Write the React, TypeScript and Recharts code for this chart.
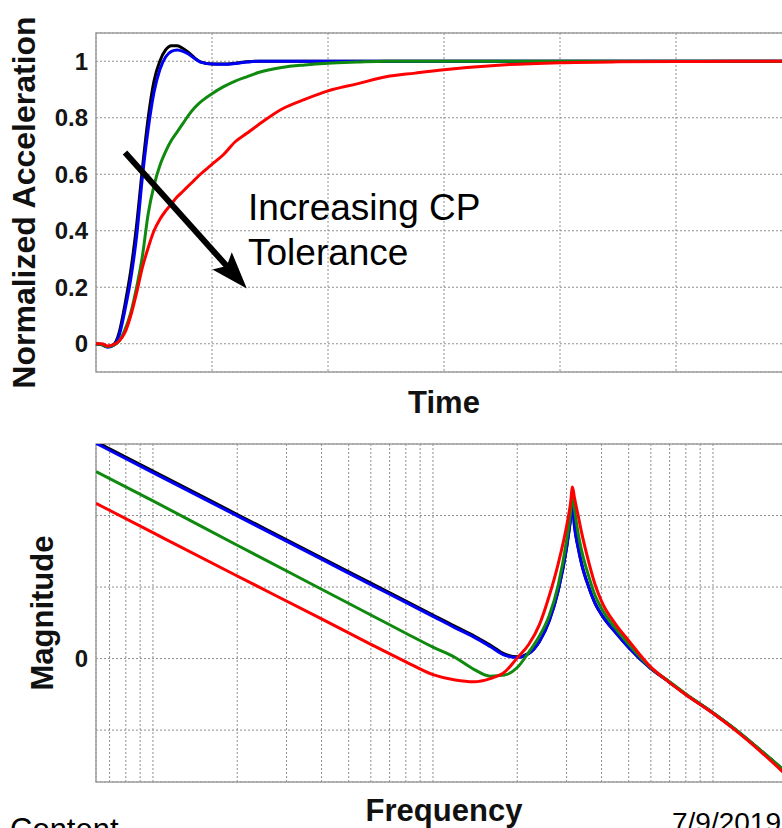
import React from "react";
import {
  LineChart,
  Line,
  XAxis,
  YAxis,
  CartesianGrid,
  ReferenceLine,
  ReferenceArea,
  Label,
} from "recharts";

// step response, time axis (arbitrary units, 6 grid divisions)
const timeS = [
  0, 0.05, 0.1, 0.15, 0.2, 0.25, 0.3, 0.35, 0.4, 0.45, 0.5, 0.55, 0.6, 0.65,
  0.7, 0.75, 0.8, 0.85, 0.9, 1.0, 1.1, 1.2, 1.3, 1.4, 1.6, 1.8, 2.0, 2.25, 2.5,
  2.75, 3.0, 3.5, 4.0, 4.5, 5.0, 5.5, 6.0,
];
const stepBlack = [
  0, -0.003, -0.01, -0.004, 0.04, 0.14, 0.26, 0.42, 0.62, 0.8, 0.93, 1.0, 1.04,
  1.055, 1.055, 1.045, 1.03, 1.012, 0.998, 0.99, 0.99, 0.993, 0.998, 1.0, 1.0,
  1.0, 1.0, 1.0, 1.0, 1.0, 1.0, 1.0, 1.0, 1.0, 1.0, 1.0, 1.0,
];
const stepBlue = [
  0, -0.004, -0.012, -0.006, 0.03, 0.12, 0.23, 0.38, 0.59, 0.76, 0.89, 0.97,
  1.015, 1.035, 1.04, 1.035, 1.025, 1.01, 0.997, 0.99, 0.989, 0.992, 0.997, 1.0,
  1.0, 1.0, 1.0, 1.0, 1.0, 1.0, 1.0, 1.0, 1.0, 1.0, 1.0, 1.0, 1.0,
];
const stepGreen = [
  0, -0.003, -0.01, -0.006, 0.01, 0.05, 0.11, 0.2, 0.31, 0.46, 0.56, 0.63, 0.68,
  0.72, 0.75, 0.78, 0.81, 0.835, 0.855, 0.885, 0.91, 0.93, 0.945, 0.96, 0.978,
  0.987, 0.993, 0.997, 1.0, 1.0, 1.0, 1.0, 1.0, 1.0, 1.0, 1.0, 1.0,
];
const stepRed = [
  0, 0, -0.008, -0.003, 0.01, 0.04, 0.1, 0.18, 0.27, 0.34, 0.4, 0.44, 0.47,
  0.495, 0.52, 0.54, 0.56, 0.58, 0.6, 0.635, 0.67, 0.715, 0.745, 0.775, 0.83,
  0.865, 0.895, 0.92, 0.945, 0.958, 0.97, 0.987, 0.995, 0.998, 0.999, 1.0, 1.0,
];
const timeTicks = [0, 1, 2, 3, 4, 5, 6];
const accelTicks = [0, 0.2, 0.4, 0.6, 0.8, 1];

// frequency response (Hz, dB)
const freqHz = [
  6.26, 10, 20, 40, 60, 80, 100, 120, 140, 160, 180, 200, 220, 240, 260, 280,
  300, 310, 315, 320, 330, 340, 360, 380, 400, 450, 500, 600, 700, 800, 1000,
  1200, 1500, 1915,
];
const magBlack = [
  60.6, 52.4, 40.3, 28.2, 21.1, 16.1, 12.2, 9.0, 6.4, 3.8, 1.3, 0.5, 1.5, 4.8,
  10.5, 19, 31, 39, 43.5, 37.5, 31, 26.3, 20, 15.3, 12.3, 7.2, 3.1, -2.8, -6.6,
  -10, -15.2, -19.8, -26.1, -33.3,
];
const magBlue = [
  60.2, 52.0, 39.9, 27.8, 20.7, 15.7, 11.8, 8.6, 6.0, 3.4, 1.0, 0.3, 1.4, 4.8,
  10.5, 19, 31, 39, 43, 37, 31, 26.3, 20, 15.3, 12.3, 7.2, 3.1, -2.8, -6.6,
  -10, -15.2, -19.8, -26.1, -33.3,
];
const magGreen = [
  52.3, 44.1, 31.7, 19.4, 12.2, 7.1, 3.2, 0.3, -3.0, -4.9, -4.6, -2.5, 1.8, 6.3,
  12, 20.5, 33, 41, 46.8, 42, 35, 30, 23, 17.5, 14, 8.3, 4, -2.6, -6.5, -9.9,
  -15.1, -19.7, -26, -33.1,
];
const magRed = [
  43.4, 35.2, 23.1, 11.1, 4.0, -0.9, -4.5, -6.0, -6.5, -5.6, -3.8, 0.2, 4.0,
  9.5, 17.5, 26.5, 37, 43.5, 48, 45, 40, 35, 27, 20.5, 16, 9.5, 5, -2.4, -6.7,
  -10.1, -15.3, -20, -26.4, -34.1,
];
const freqTicks = [
  7, 8, 9, 10, 20, 30, 40, 50, 60, 70, 80, 90, 100, 200, 300, 400, 500, 600,
  700, 800, 900, 1000,
];
const magTicks = [-20, 0, 20, 40, 60];

const timeData = timeS.map((t, i) => ({
  t,
  black: stepBlack[i],
  blue: stepBlue[i],
  green: stepGreen[i],
  red: stepRed[i],
}));
const freqData = freqHz.map((f, i) => ({
  f,
  black: magBlack[i],
  blue: magBlue[i],
  green: magGreen[i],
  red: magRed[i],
}));

const FONT = "'Liberation Sans', Arial, Helvetica, sans-serif";
const GRID = "#8e8e8e";
const BORDER = "#a0a0a0";
const tickStyle = { fontSize: 24, fontWeight: 700, fill: "#151515", fontFamily: FONT };
const titleProps = { fontSize: 31, fontWeight: 700, fill: "#111", fontFamily: FONT };

const series = [
  { key: "black", color: "#000000" },
  { key: "blue", color: "#0000f5" },
  { key: "green", color: "#0f8a0f" },
  { key: "red", color: "#ff0000" },
];

// x ticks must stay "on" so the grid gets its vertical lines; draw nothing
const NoTick = () => <g />;

// rotated y title, baseline at bx
const vTitle = (text: string, bx: number, size: number) => (p: any) => {
  const vb = p.viewBox || {};
  const cy = (vb.y ?? 0) + (vb.height ?? 0) / 2;
  return (
    <text
      x={bx}
      y={cy}
      transform={`rotate(-90, ${bx}, ${cy})`}
      textAnchor="middle"
      {...titleProps}
      fontSize={size}
    >
      {text}
    </text>
  );
};

// thick arrow with notched head
function Arrow(props: any) {
  const { x1, y1, x2, y2 } = props;
  const dx = x2 - x1;
  const dy = y2 - y1;
  const len = Math.hypot(dx, dy) || 1;
  const ux = dx / len;
  const uy = dy / len;
  const head = 37;
  const half = 13;
  const notch = 7;
  const nx = -uy;
  const ny = ux;
  const bx = x2 - ux * head;
  const by = y2 - uy * head;
  const mx = x2 - ux * (head - notch);
  const my = y2 - uy * (head - notch);
  const pts = [
    [x2, y2],
    [bx + nx * half, by + ny * half],
    [mx, my],
    [bx - nx * half, by - ny * half],
  ];
  return (
    <g>
      <line x1={x1} y1={y1} x2={mx} y2={my} stroke="#000" strokeWidth={6} />
      <polygon points={pts.map((p) => p.join(",")).join(" ")} fill="#000" />
    </g>
  );
}

export default function App() {
  return (
    <div
      style={{
        position: "absolute",
        left: 0,
        top: 0,
        width: 782,
        height: 828,
        overflow: "hidden",
        background: "#fff",
      }}
    >
      <div style={{ position: "absolute", left: 0, top: 0 }}>
        <LineChart
          width={800}
          height={420}
          data={timeData}
          margin={{ top: 33, right: 8, bottom: 0, left: 0 }}
        >
          <CartesianGrid stroke={GRID} strokeDasharray="2 2" />
          <XAxis
            dataKey="t"
            type="number"
            domain={[0, 6]}
            ticks={timeTicks}
            interval={0}
            tick={NoTick}
            tickLine={false}
            axisLine={false}
            height={48}
          >
            <Label value="Time" position="insideBottom" offset={7} {...titleProps} />
          </XAxis>
          <YAxis
            type="number"
            domain={[-0.1, 1.1]}
            ticks={accelTicks}
            interval={0}
            allowDataOverflow
            width={96}
            tick={tickStyle}
            tickLine={false}
            tickSize={0}
            tickMargin={8}
            axisLine={false}
          >
            <Label content={vTitle("Normalized Acceleration", 35, 32)} />
          </YAxis>
          <ReferenceArea
            x1={0}
            x2={6}
            y1={-0.1}
            y2={1.1}
            fill="none"
            stroke={BORDER}
            strokeWidth={1.5}
          />
          {series.map((s) => (
            <Line
              key={s.key}
              type="monotone"
              dataKey={s.key}
              stroke={s.color}
              strokeWidth={3}
              dot={false}
              isAnimationActive={false}
            />
          ))}
          <ReferenceLine
            segment={[
              { x: 0.25, y: 0.677 },
              { x: 1.3, y: 0.196 },
            ]}
            shape={Arrow}
          />
        </LineChart>
      </div>

      <div style={{ position: "absolute", left: 0, top: 400 }}>
        <LineChart
          width={800}
          height={428}
          data={freqData}
          margin={{ top: 44, right: 8, bottom: 0, left: 0 }}
        >
          <CartesianGrid stroke={GRID} strokeDasharray="2 2" />
          <XAxis
            dataKey="f"
            type="number"
            scale="log"
            domain={[6.26, 1915]}
            allowDataOverflow
            ticks={freqTicks}
            interval={0}
            tick={NoTick}
            tickLine={false}
            axisLine={false}
            height={46}
          >
            <Label value="Frequency" position="insideBottom" offset={7} {...titleProps} />
          </XAxis>
          <YAxis
            type="number"
            domain={[-34.5, 60]}
            ticks={magTicks}
            interval={0}
            allowDataOverflow
            width={96}
            tick={tickStyle}
            tickFormatter={(v: number) => (v === 0 ? "0" : "")}
            tickLine={false}
            tickSize={0}
            tickMargin={8}
            axisLine={false}
          >
            <Label content={vTitle("Magnitude", 53, 31)} />
          </YAxis>
          <ReferenceArea
            x1={6.26}
            x2={1915}
            y1={-34.5}
            y2={60}
            fill="none"
            stroke={BORDER}
            strokeWidth={1.5}
          />
          {series.map((s) => (
            <Line
              key={s.key}
              type="monotone"
              dataKey={s.key}
              stroke={s.color}
              strokeWidth={3}
              dot={false}
              isAnimationActive={false}
            />
          ))}
        </LineChart>
      </div>

      <svg
        width={782}
        height={828}
        style={{ position: "absolute", left: 0, top: 0, pointerEvents: "none" }}
      >
        <text x={248} y={220} fontSize={37} fontFamily={FONT} fill="#000">
          Increasing CP
        </text>
        <text x={248} y={265} fontSize={37} fontFamily={FONT} fill="#000">
          Tolerance
        </text>
        <text x={10} y={840} fontSize={31} fontFamily={FONT} fill="#000">
          Content
        </text>
        <text x={672} y={832} fontSize={28} fontFamily={FONT} fill="#000">
          7/9/2019
        </text>
      </svg>
    </div>
  );
}
